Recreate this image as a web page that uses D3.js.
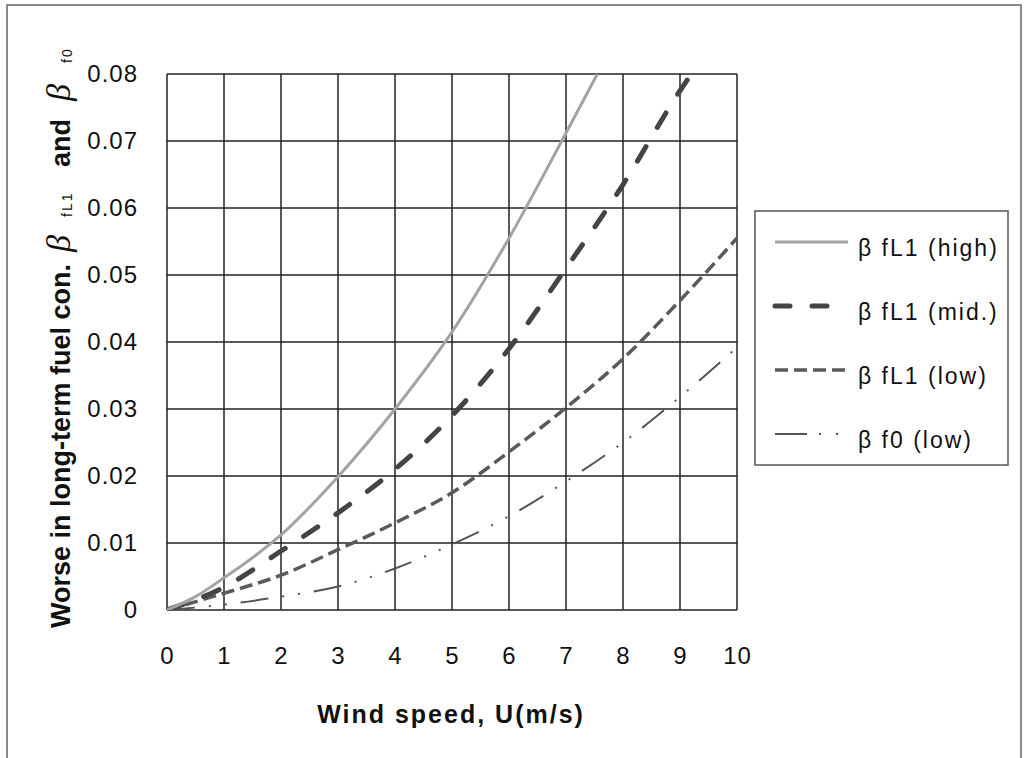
<!DOCTYPE html>
<html>
<head>
<meta charset="utf-8">
<script src="https://cdn.jsdelivr.net/npm/d3@7"></script>
<style>
  body { margin: 0; background: #fff; }
  text { font-family: "Liberation Sans", Arial, sans-serif; fill: #111; }
</style>
</head>
<body>
<div id="chart-area"></div>
<script>
// wind speed values and the four curves
var highX = [0, 0.5, 1, 2, 3, 4, 5, 6, 7, 7.55];
var highY = [0, 0.002, 0.0048, 0.0112, 0.0199, 0.030, 0.0415, 0.0555, 0.0712, 0.080];
var midX = [0, 1, 2, 3, 4, 5, 6, 7, 8, 9, 9.2];
var midY = [0, 0.0034, 0.0088, 0.0145, 0.021, 0.029, 0.039, 0.051, 0.0635, 0.0775, 0.080];
var lowX = [0, 1, 2, 3, 4, 5, 6, 7, 8, 9, 10];
var lowY = [0, 0.0025, 0.0052, 0.009, 0.013, 0.0175, 0.0236, 0.0302, 0.0375, 0.0462, 0.0555];
var f0X = [0, 1, 2, 3, 4, 5, 6, 7, 8, 9, 10];
var f0Y = [0, 0.0008, 0.002, 0.0035, 0.0062, 0.0098, 0.014, 0.0192, 0.025, 0.0318, 0.0392];

var seriesNames = ["β fL1 (high)", "β fL1 (mid.)", "β fL1 (low)", "β f0 (low)"];
var xTicks = [0, 1, 2, 3, 4, 5, 6, 7, 8, 9, 10];
var yTicks = [0, 0.01, 0.02, 0.03, 0.04, 0.05, 0.06, 0.07, 0.08];

var styles = [
  { color: "#a3a3a3", width: 3, dash: null, cap: "butt", legendDash: null },
  { color: "#444444", width: 5, dash: "17,22", cap: "round", legendDash: "15,22" },
  { color: "#5a5a5a", width: 3.5, dash: "13,6", cap: "butt", legendDash: "13,6" },
  { color: "#555555", width: 2, dash: "28,14,2,14,2,14", cap: "butt", legendDash: "32,12,2,15,2,15" }
];

var W = 1028, H = 758;
var margins = { top: 74, left: 167 };
var pw = 570, ph = 536;

var svg = d3.select("#chart-area").append("svg")
  .attr("width", W).attr("height", H);

// outer frame
svg.append("rect").attr("x", 7).attr("y", 5).attr("width", 1014).attr("height", 770)
  .attr("fill", "none").attr("stroke", "#666").attr("stroke-width", 1.5);

var g = svg.append("g").attr("transform", `translate(${margins.left},${margins.top})`);

var x = d3.scaleLinear().domain([0, 10]).range([0, pw]);
var y = d3.scaleLinear().domain([0, 0.08]).range([ph, 0]);

// grid
g.selectAll("line.vg").data(xTicks).enter().append("line")
  .attr("x1", d => x(d)).attr("x2", d => x(d)).attr("y1", 0).attr("y2", ph)
  .attr("stroke", "#222").attr("stroke-width", 1.5);
g.selectAll("line.hg").data(yTicks).enter().append("line")
  .attr("y1", d => y(d)).attr("y2", d => y(d)).attr("x1", 0).attr("x2", pw)
  .attr("stroke", "#222").attr("stroke-width", 1.5);

// tick labels through d3 axes, no domain / tick marks
var xAxis = g.append("g").attr("transform", `translate(0,${ph})`)
  .call(d3.axisBottom(x).tickValues(xTicks).tickSize(0).tickPadding(37).tickFormat(d3.format("d")));
var yAxis = g.append("g")
  .call(d3.axisLeft(y).tickValues(yTicks).tickSize(0).tickPadding(29).tickFormat(d => d === 0 ? "0" : d3.format(".2f")(d)));
[xAxis, yAxis].forEach(a => {
  a.select(".domain").remove();
  a.selectAll("text").attr("font-size", 24).attr("fill", "#111").attr("letter-spacing", 1)
    .attr("font-family", "'Liberation Sans', Arial, sans-serif");
});

// curves
svg.append("clipPath").attr("id", "plotclip").append("rect")
  .attr("width", pw).attr("height", ph);
var line = d3.line().x(d => x(d[0])).y(d => y(d[1])).curve(d3.curveMonotoneX);
var series = [
  d3.zip(highX, highY), d3.zip(midX, midY), d3.zip(lowX, lowY), d3.zip(f0X, f0Y)
];
[3, 2, 1, 0].forEach(i => {
  g.append("path").datum(series[i])
    .attr("clip-path", "url(#plotclip)")
    .attr("fill", "none")
    .attr("stroke", styles[i].color)
    .attr("stroke-width", styles[i].width)
    .attr("stroke-dasharray", styles[i].dash)
    .attr("stroke-linecap", styles[i].cap)
    .attr("d", line);
});

// axis titles
svg.append("text").attr("x", 451).attr("y", 723).attr("text-anchor", "middle")
  .attr("font-size", 25).attr("font-weight", "bold").attr("letter-spacing", 2)
  .text("Wind speed, U(m/s)");

var yt = svg.append("text").attr("transform", "translate(70,628) rotate(-90)")
  .attr("font-size", 27).attr("font-weight", "bold");
yt.append("tspan").attr("x", 0).text("Worse in long-term fuel con.");
yt.append("tspan").attr("x", 376).attr("font-family", "'Liberation Serif', serif")
  .attr("font-style", "italic").attr("font-weight", "normal").attr("font-size", 34).text("β");
yt.append("tspan").attr("x", 411).attr("dy", 2).attr("font-size", 14).attr("font-weight", "normal")
  .attr("letter-spacing", 2).text("fL1");
yt.append("tspan").attr("x", 461).attr("dy", -2).text("and");
yt.append("tspan").attr("x", 527).attr("font-family", "'Liberation Serif', serif")
  .attr("font-style", "italic").attr("font-weight", "normal").attr("font-size", 34).text("β");
yt.append("tspan").attr("x", 565).attr("dy", 2).attr("font-size", 14).attr("font-weight", "normal")
  .attr("letter-spacing", 2).text("f0");

// legend
var legend = svg.append("g").attr("transform", "translate(755,211)");
legend.append("rect").attr("width", 253).attr("height", 254)
  .attr("fill", "#fff").attr("stroke", "#555").attr("stroke-width", 1.5);
seriesNames.forEach((name, i) => {
  var row = legend.append("g").attr("transform", `translate(0,${31 + i * 64})`);
  row.append("line").attr("x1", 20).attr("x2", 93).attr("y1", 0).attr("y2", 0)
    .attr("stroke", styles[i].color).attr("stroke-width", styles[i].width)
    .attr("stroke-linecap", styles[i].cap)
    .attr("stroke-dasharray", styles[i].legendDash);
  row.append("text").attr("x", 103).attr("y", 14).attr("font-size", 23).attr("fill", "#333")
    .attr("letter-spacing", 2).text(name);
});
</script>
</body>
</html>
